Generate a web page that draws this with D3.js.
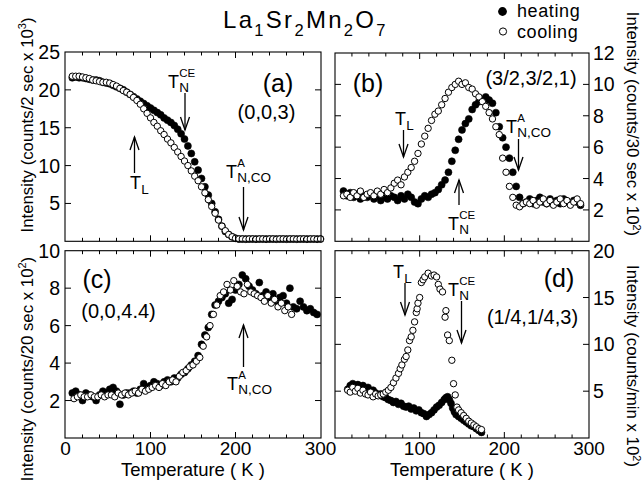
<!DOCTYPE html>
<html><head><meta charset="utf-8">
<script src="https://cdn.jsdelivr.net/npm/d3@7"></script>
<style>
html,body{margin:0;padding:0;background:#fff}
svg{display:block;font-family:"Liberation Sans",Arial,Helvetica,sans-serif}
</style>
</head><body>
<svg id="chart" width="642" height="486"></svg>
<script>
// ---------------- DATA ----------------
// Panel (a): (0,0,3), Intensity counts/2 sec x 10^3
const aTemperature = [8,12,16,20,24,28,32,36,40,44,48,52,56,60,64,68,72,76,80,84,88,92,96,100,104,108,112,116,120,124,128,132,136,140,144,148,152,156,160,164,168,172,176,180,184,188,192,196,200,204,208,212,216,220,224,228,232,236,240,244,248,252,256,260,264,268,272,276,280,284,288,292,296,300];
const aHeating = [21.6,21.7,21.6,21.6,21.5,21.4,21.3,21.3,21.2,21.0,20.9,20.8,20.6,20.4,20.2,20.0,19.7,19.4,19.1,18.8,18.5,18.2,17.9,17.6,17.3,17.0,16.7,16.3,16.0,15.7,15.3,14.8,14.2,13.5,12.6,11.6,10.5,9.4,8.3,7.2,6.1,5.0,3.9,2.9,2.0,1.3,0.9,0.6,0.4,0.3,0.3,0.3,0.3,0.3,0.3,0.3,0.3,0.3,0.3,0.3,0.3,0.3,0.3,0.3,0.3,0.3,0.3,0.3,0.3,0.3,0.3,0.3,0.3,0.3];
const aCooling = [21.8,21.8,21.8,21.7,21.6,21.5,21.3,21.2,21.1,21.0,21.0,20.9,20.7,20.5,20.2,19.9,19.7,19.4,19.0,18.6,18.1,17.5,16.9,16.3,15.7,15.2,14.6,14.1,13.5,13.0,12.4,11.8,11.2,10.6,10.0,9.3,8.6,8.0,7.2,6.4,5.5,4.6,3.7,2.8,2.0,1.4,0.9,0.6,0.4,0.3,0.3,0.25,0.3,0.3,0.25,0.3,0.3,0.25,0.3,0.3,0.25,0.3,0.3,0.25,0.3,0.3,0.25,0.3,0.3,0.25,0.3,0.3,0.25,0.3];

// Panel (b): (3/2,3/2,1), Intensity counts/30 sec x 10^2
const bTemperature = [10,14,18,22,26,30,34,38,42,46,50,54,58,62,66,70,74,78,82,86,90,94,98,102,106,110,114,118,122,126,130,134,138,142,146,150,154,158,162,166,170,174,178,182,186,190,194,198,202,206,210,214,218,222,226,230,234,238,242,246,250,254,258,262,266,270,274,278,282,286,290];
const bHeating = [3.2,2.9,3.1,2.8,3.0,2.7,2.9,2.8,3.0,2.7,2.9,2.6,2.8,2.7,2.9,2.8,2.6,2.9,2.7,3.0,2.8,2.5,2.4,2.7,2.9,2.8,3.0,3.1,3.3,3.6,3.9,4.4,5.1,5.8,6.5,7.1,7.5,7.8,8.4,8.7,8.9,9.0,9.2,9.0,8.8,8.2,7.3,6.6,6.0,5.3,4.4,3.5,2.8,2.4,2.5,2.7,2.4,2.6,2.8,2.5,2.4,2.7,2.5,2.6,2.4,2.7,2.5,2.4,2.6,2.5,2.3];
const bCooling = [2.9,3.0,2.8,3.1,2.9,3.2,2.8,3.0,3.1,2.9,3.2,3.0,3.3,3.1,3.4,3.7,3.9,3.6,4.1,4.4,4.7,5.1,5.6,6.2,6.7,7.2,7.7,8.1,8.3,8.7,9.1,9.5,9.8,10.0,10.2,10.0,10.1,9.8,9.7,9.4,9.2,8.9,8.6,8.2,7.8,7.3,6.8,5.3,4.4,3.5,2.8,2.3,2.2,2.4,2.5,2.4,2.6,2.3,2.5,2.7,2.4,2.6,2.3,2.5,2.7,2.4,2.6,2.3,2.5,2.7,2.4];

// Panel (c): (0,0,4.4), Intensity counts/20 sec x 10^2
const cHeatingT = [8,12,16,20,24,28,32,36,40,44,48,52,56,60,64,68,72,76,80,84,88,92,96,100,104,108,112,116,120,124,128,132,136,140,144,148,152,156,160,164,168,172,176,180,184,188,192,196,200,204,208,212,216,220,224,228,232,236,240,244,248,252,256,260,264,268,272,276,280,284,288,292,296];
const cHeating = [2.4,2.5,2.3,2.0,2.4,2.3,2.2,2.0,2.3,2.5,2.4,2.6,2.7,2.5,1.8,2.3,2.4,2.4,2.5,2.4,2.6,2.9,2.7,2.8,3.0,2.9,2.8,3.0,3.1,3.0,3.2,3.2,3.4,3.5,3.7,3.9,4.1,4.4,5.0,5.5,5.9,6.6,7.1,7.3,7.5,7.7,7.2,7.4,7.9,8.2,8.7,8.5,8.1,7.9,7.7,8.3,7.6,7.8,7.5,7.7,7.3,7.5,7.6,7.2,8.0,7.0,6.9,7.3,7.0,6.8,6.9,6.7,6.6];
const cCoolingT = [10,14,18,22,26,30,34,38,42,46,50,54,58,62,66,70,74,78,82,86,90,94,98,102,106,110,114,118,122,126,130,134,138,142,146,150,154,158,162,166,170,174,178,182,186,190,194,198,202,206,210,214,218,222,226,230,234,238,242,246,250,254,258,262,266];
const cCooling = [2.1,2.2,2.3,2.2,2.2,2.3,2.2,2.2,2.3,2.2,2.3,2.3,2.2,2.4,2.3,2.4,2.3,2.4,2.5,2.4,2.6,2.5,2.6,2.7,2.8,2.7,2.9,2.8,3.0,3.1,3.0,3.3,3.5,3.6,3.8,3.9,4.1,4.3,4.9,5.4,6.0,6.6,7.1,7.6,7.8,8.2,7.9,8.4,8.1,7.8,7.7,8.2,7.8,7.7,7.6,7.5,7.3,7.6,7.2,7.4,7.0,7.2,6.8,7.0,6.6];

// Panel (d): (1/4,1/4,3), Intensity counts/min x 10^2
const dHeatingT = [15,18,21,24,27,30,33,36,39,42,45,48,51,54,57,60,63,66,69,72,75,78,81,84,87,90,93,96,99,102,105,108,111,114,117,120,123,126,129,131,133,135,137,139,141,143,146,149,152,155,158,161,164,167,170,173];
const dHeating = [5.2,5.6,5.8,5.5,5.7,5.4,5.6,5.2,5.4,5.0,5.1,4.8,4.6,4.7,4.4,4.3,4.1,4.0,3.8,3.9,3.6,3.7,3.4,3.3,3.4,3.1,3.2,2.9,3.0,2.7,2.6,2.3,2.5,2.7,3.0,3.3,3.5,3.8,4.1,4.3,4.4,4.1,3.7,3.2,2.8,2.5,2.3,2.1,1.9,1.7,1.5,1.3,1.2,1.0,0.8,0.6];
const dCoolingT = [15,18,21,24,27,30,33,36,39,42,45,48,51,54,57,60,63,66,69,72,75,77,79,82,84,86,88,90,92,94,96,97,98,100,102,104,106,110,114,117,120,122,124,127,130,131,133,135,138,140,142,144,146,149,152,155,158,161,164,167,170,173];
const dCooling = [5.1,4.9,5.4,5.0,5.3,4.8,5.1,4.7,4.6,4.9,4.4,4.7,4.5,4.6,4.7,4.9,5.1,5.4,5.9,6.4,6.9,7.4,7.8,8.4,8.7,9.4,10.4,10.8,11.5,12.4,13.4,13.8,14.4,15.0,16.6,16.9,17.2,17.6,17.3,17.4,17.2,16.4,15.9,15.6,12.9,13.6,11.0,10.4,8.3,5.8,4.6,3.3,3.0,2.7,2.4,2.1,1.8,1.6,1.4,1.2,1.0,0.9];

// Tick labels
const xTickLabelsC = [0,100,200,300];
const xTickLabelsD = [100,200,300];
const yTicksA = [5,10,15,20,25];
const yTicksB = [2,4,6,8,10,12];
const yTicksC = [2,4,6,8,10];
const yTicksD = [5,10,15,20];

// ---------------- DRAWING ----------------
const svg = d3.select('#chart');
const zip = (t, v) => t.map((x, i) => [x, v[i]]).filter(p => p[1] !== undefined);

const panels = [
  {frame:[65,321,52,241.3], xr:[65.5,320.5], ydom:[0,25], yticks:yTicksA, side:'left',
   xlabels:null, heating:zip(aTemperature,aHeating), cooling:zip(aTemperature,aCooling)},
  {frame:[335,589,53,241.3], xr:[335,589], ydom:[0,12], yticks:yTicksB, side:'right',
   xlabels:null, heating:zip(bTemperature,bHeating), cooling:zip(bTemperature,bCooling)},
  {frame:[65,321,250.7,438], xr:[65.5,320.5], ydom:[0,10], yticks:yTicksC, side:'left',
   xlabels:xTickLabelsC, heating:zip(cHeatingT,cHeating), cooling:zip(cCoolingT,cCooling)},
  {frame:[335,589,250.7,438], xr:[335,589], ydom:[0,20], yticks:yTicksD, side:'right',
   xlabels:xTickLabelsD, heating:zip(dHeatingT,dHeating), cooling:zip(dCoolingT,dCooling)}
];

panels.forEach(p => {
  const [fx0, fx1, fy0, fy1] = p.frame;
  const x = d3.scaleLinear().domain([0,300]).range(p.xr);
  const y = d3.scaleLinear().domain(p.ydom).range([fy1, fy0]);
  const g = svg.append('g');

  // markers: heating (filled) below, cooling (open) on top
  g.append('g').selectAll('circle').data(p.heating).join('circle')
    .attr('cx', d => x(d[0])).attr('cy', d => y(d[1])).attr('r', 3.5)
    .attr('fill', '#000').attr('stroke', '#000').attr('stroke-width', 0.6);
  g.append('g').selectAll('circle').data(p.cooling).join('circle')
    .attr('cx', d => x(d[0])).attr('cy', d => y(d[1])).attr('r', 3.2)
    .attr('fill', '#fff').attr('stroke', '#000').attr('stroke-width', 1);

  // frame
  g.append('rect').attr('x', fx0).attr('y', fy0).attr('width', fx1 - fx0).attr('height', fy1 - fy0)
    .attr('fill', 'none').attr('stroke', '#000').attr('stroke-width', 1.1);

  // x ticks (inward) on top and bottom
  d3.range(0, 301, 20).forEach(t => {
    const len = (t % 100 === 0) ? 6 : 3.5;
    const xx = x(t);
    if (xx <= fx0 + 0.5 || xx >= fx1 - 0.5) return;
    g.append('line').attr('x1', xx).attr('x2', xx).attr('y1', fy1).attr('y2', fy1 - len).attr('stroke', '#000');
    g.append('line').attr('x1', xx).attr('x2', xx).attr('y1', fy0).attr('y2', fy0 + len).attr('stroke', '#000');
  });
  // y ticks (inward) on both sides
  p.yticks.forEach(t => {
    const yy = y(t);
    if (yy <= fy0 + 0.5) return;
    g.append('line').attr('x1', fx0).attr('x2', fx0 + 6).attr('y1', yy).attr('y2', yy).attr('stroke', '#000');
    g.append('line').attr('x1', fx1).attr('x2', fx1 - 6).attr('y1', yy).attr('y2', yy).attr('stroke', '#000');
  });
  // y tick labels
  p.yticks.forEach(t => {
    g.append('text')
      .attr('x', p.side === 'left' ? fx0 - 5 : fx1 + 4)
      .attr('y', y(t)).attr('dy', '0.36em')
      .attr('text-anchor', p.side === 'left' ? 'end' : 'start')
      .attr('font-size', 19.5).text(t);
  });
  // x tick labels
  if (p.xlabels) {
    p.xlabels.forEach(t => {
      g.append('text').attr('x', x(t)).attr('y', 455)
        .attr('text-anchor', 'middle').attr('font-size', 19).text(t);
    });
    g.append('text').attr('x', (fx0 + fx1) / 2).attr('y', 476)
      .attr('text-anchor', 'middle').attr('font-size', 18.5).text('Temperature ( K )');
  }
});

// ---------- annotations ----------
function txt(x, y, s, size, anchor) {
  return svg.append('text').attr('x', x).attr('y', y).attr('font-size', size)
    .attr('text-anchor', anchor || 'start').text(s);
}
// T with stacked subscript / superscript, built as one text element
function tLabel(x, y, sub, sup) {
  const t = svg.append('text').attr('x', x).attr('y', y).attr('font-size', 18);
  t.append('tspan').text('T');
  const w = t.node().getComputedTextLength();
  if (sub) t.append('tspan').attr('x', x + w + 0.3).attr('y', y + (sup ? 3.5 : 5))
    .attr('font-size', 13.5).text(sub);
  if (sup) t.append('tspan').attr('x', x + w + 0.3).attr('y', y - 11)
    .attr('font-size', 11.5).text(sup);
}
function arrow(x, yTail, yTip) {
  const dir = yTip > yTail ? 1 : -1;
  svg.append('line').attr('x1', x).attr('x2', x).attr('y1', yTail).attr('y2', yTip)
    .attr('stroke', '#000').attr('stroke-width', 1.3);
  svg.append('path')
    .attr('d', `M${x - 4.5},${yTip - dir * 13}L${x},${yTip}L${x + 4.5},${yTip - dir * 13}`)
    .attr('fill', 'none').attr('stroke', '#000').attr('stroke-width', 1.3);
}

// panel letters and reflections
txt(278, 91.5, '(a)', 25, 'middle');
txt(266.5, 119, '(0,0,3)', 20, 'middle');
txt(368, 91.5, '(b)', 25, 'middle');
txt(531, 85, '(3/2,3/2,1)', 20, 'middle');
txt(97, 288, '(c)', 25, 'middle');
txt(118.5, 318, '(0,0,4.4)', 20, 'middle');
txt(559, 287, '(d)', 25, 'middle');
txt(532.5, 324, '(1/4,1/4,3)', 20, 'middle');

// panel a
tLabel(168, 88, 'N', 'CE'); arrow(185, 93, 130);
tLabel(130, 189, 'L', null); arrow(134.5, 173, 137);
tLabel(226, 178, 'N,CO', 'A'); arrow(243.5, 187, 230);
// panel b
tLabel(395, 125, 'L', null); arrow(403.5, 130, 157);
tLabel(448, 230, 'N', 'CE'); arrow(459, 205, 180);
tLabel(506, 133, 'N,CO', 'A'); arrow(518.5, 139, 170);
// panel c
tLabel(227, 390, 'N,CO', 'A'); arrow(243.5, 367, 325);
// panel d
tLabel(393, 278, 'L', null); arrow(405, 283, 315);
tLabel(448, 296, 'N', 'CE'); arrow(461.5, 301, 343);

// axis titles (rotated)
function vlabel(x, y, rot, main, exp) {
  const t = svg.append('text').attr('transform', `translate(${x},${y}) rotate(${rot})`)
    .attr('text-anchor', 'middle').attr('font-size', 16.8);
  t.append('tspan').text(main);
  t.append('tspan').attr('font-size', 11).attr('dy', '-0.6em').text(exp);
  t.append('tspan').attr('dy', '0.38em').text(')');
}
vlabel(33, 125, -90, 'Intensity (counts/2 sec x 10', '3');
vlabel(33, 369, -90, 'Intensity (counts/20 sec x 10', '2');
vlabel(626.5, 124, 90, 'Intensity (counts/30 sec x 10', '2');
vlabel(626.5, 366, 90, 'Intensity (counts/min x 10', '2');

// title
const title = svg.append('text').attr('x', 223).attr('y', 28).attr('font-size', 24)
  .attr('letter-spacing', 2.3);
[['La',''],['1','s'],['Sr',''],['2','s'],['Mn',''],['2','s'],['O',''],['7','s']].forEach(([s, k], i) => {
  const ts = title.append('tspan').text(s);
  if (k === 's') ts.attr('font-size', 16.5).attr('dy', 8);
  else if (i > 0) ts.attr('dy', -8);
});

// legend
svg.append('circle').attr('cx', 502.5).attr('cy', 11.5).attr('r', 4.4).attr('fill', '#000');
svg.append('circle').attr('cx', 503).attr('cy', 31.5).attr('r', 3.6).attr('fill', '#fff')
  .attr('stroke', '#000').attr('stroke-width', 1);
txt(517, 17, 'heating', 18).attr('letter-spacing', 0.6);
txt(517, 37.5, 'cooling', 18).attr('letter-spacing', 0.6);
</script>
</body></html>
